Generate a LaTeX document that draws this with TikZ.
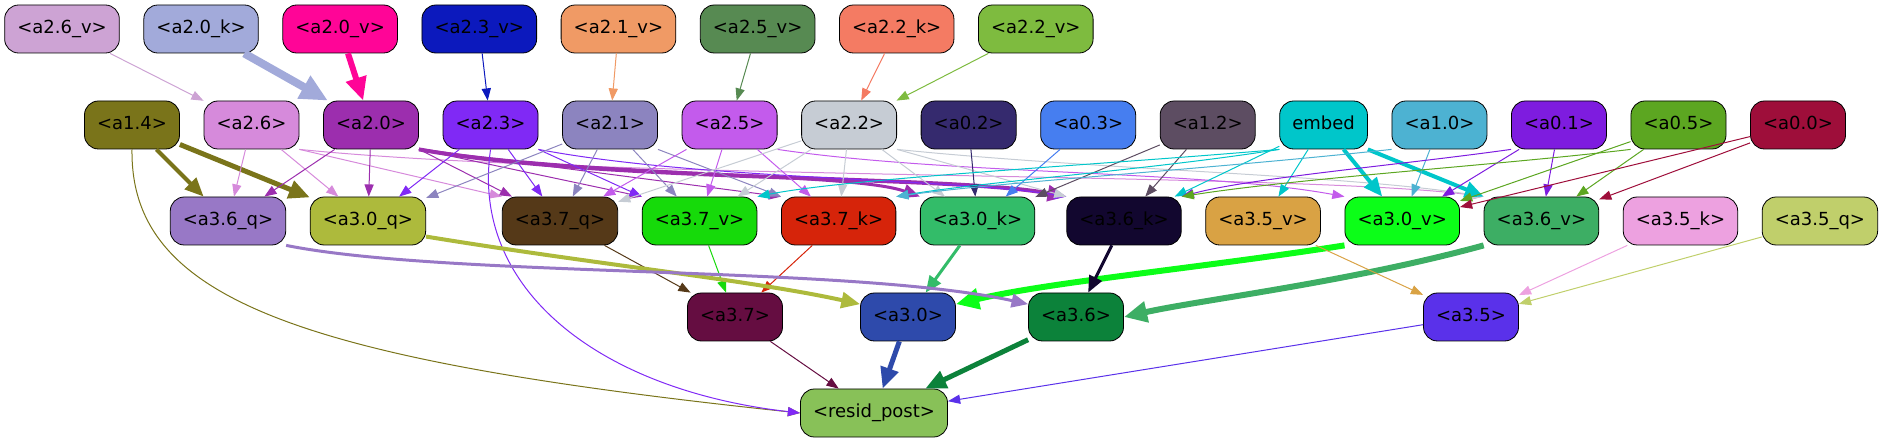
\documentclass[tikz,border=0pt]{standalone}
\usepackage{fontspec}
\setmainfont{DejaVu Sans}
\usetikzlibrary{positioning,arrows.meta}
\definecolor{c26v}{HTML}{CDA3D4}
\definecolor{c20k}{HTML}{A2AADA}
\definecolor{c20v}{HTML}{FF0597}
\definecolor{c23v}{HTML}{0C19BD}
\definecolor{c21v}{HTML}{F09A65}
\definecolor{c25v}{HTML}{578A52}
\definecolor{c22k}{HTML}{F47B63}
\definecolor{c22v}{HTML}{7EBB3F}
\definecolor{c14}{HTML}{7A741A}
\definecolor{c26}{HTML}{D68ADB}
\definecolor{c20}{HTML}{9C2EAE}
\definecolor{c23}{HTML}{8029F5}
\definecolor{c21}{HTML}{8C84BF}
\definecolor{c25}{HTML}{C35BEC}
\definecolor{c22}{HTML}{C6CCD4}
\definecolor{c02}{HTML}{352A6E}
\definecolor{c03}{HTML}{467EF0}
\definecolor{c12}{HTML}{5D4D62}
\definecolor{cemb}{HTML}{00C6CA}
\definecolor{c10}{HTML}{4DB2D2}
\definecolor{c01}{HTML}{7E1CDF}
\definecolor{c05}{HTML}{5CA621}
\definecolor{c00}{HTML}{9E0E3A}
\definecolor{c36q}{HTML}{9878C6}
\definecolor{c30q}{HTML}{ADBA3C}
\definecolor{c37q}{HTML}{553918}
\definecolor{c37v}{HTML}{16DA0A}
\definecolor{c37k}{HTML}{D6240A}
\definecolor{c30k}{HTML}{33BC69}
\definecolor{c36k}{HTML}{12072F}
\definecolor{c35v}{HTML}{D9A244}
\definecolor{c30v}{HTML}{0CFE18}
\definecolor{c36v}{HTML}{3DAE64}
\definecolor{c35k}{HTML}{EDA1E0}
\definecolor{c35q}{HTML}{C0CF6B}
\definecolor{c37}{HTML}{650D41}
\definecolor{c30}{HTML}{2E4AAB}
\definecolor{c36}{HTML}{0C823A}
\definecolor{c35}{HTML}{5A31EA}
\definecolor{cres}{HTML}{88C158}
\begin{document}
\begin{tikzpicture}[x=1pt, y=-1pt, node distance=23.7pt, thick,
  main/.style = {draw, rounded corners=14pt, minimum height=48pt, inner xsep=12.6pt, inner ysep=0pt, text height=13pt, text depth=4pt, font=\fontsize{18}{21}\selectfont},
  link/.style = {line width=#1, -{Triangle[length=10pt 2.2, width=7pt 2.2]}},
  link/.default = 1pt]
\useasboundingbox (0,0) rectangle (1882,443);
% top row
\node[main, fill=c26v] (a26v) at (62,29) {<a2.6\_v>};
\node[main, fill=c20k] (a20k) [right=of a26v] {<a2.0\_k>};
\node[main, fill=c20v] (a20v) [right=of a20k] {<a2.0\_v>};
\node[main, fill=c23v] (a23v) [right=of a20v] {<a2.3\_v>};
\node[main, fill=c21v] (a21v) [right=of a23v] {<a2.1\_v>};
\node[main, fill=c25v] (a25v) [right=of a21v] {<a2.5\_v>};
\node[main, fill=c22k] (a22k) [right=of a25v] {<a2.2\_k>};
\node[main, fill=c22v] (a22v) [right=of a22k] {<a2.2\_v>};
% heads
\node[main, fill=c14] (a14) at (132,125) {<a1.4>};
\node[main, fill=c26] (a26) [right=of a14] {<a2.6>};
\node[main, fill=c20] (a20) [right=of a26] {<a2.0>};
\node[main, fill=c23] (a23) [right=of a20] {<a2.3>};
\node[main, fill=c21] (a21) [right=of a23] {<a2.1>};
\node[main, fill=c25] (a25) [right=of a21] {<a2.5>};
\node[main, fill=c22] (a22) [right=of a25] {<a2.2>};
\node[main, fill=c02] (a02) [right=of a22] {<a0.2>};
\node[main, fill=c03] (a03) [right=of a02] {<a0.3>};
\node[main, fill=c12] (a12) [right=of a03] {<a1.2>};
\node[main, fill=cemb] (emb) [right=of a12] {embed};
\node[main, fill=c10] (a10) [right=of emb] {<a1.0>};
\node[main, fill=c01] (a01) [right=of a10] {<a0.1>};
\node[main, fill=c05] (a05) [right=of a01] {<a0.5>};
\node[main, fill=c00] (a00) [right=of a05] {<a0.0>};
% q, k, v of layer 3
\node[main, fill=c36q] (a36q) at (228,221) {<a3.6\_q>};
\node[main, fill=c30q] (a30q) [right=of a36q] {<a3.0\_q>};
\node[main, fill=c37q] (a37q) at (560,221) {<a3.7\_q>};
\node[main, fill=c37v] (a37v) [right=of a37q] {<a3.7\_v>};
\node[main, fill=c37k] (a37k) [right=of a37v] {<a3.7\_k>};
\node[main, fill=c30k] (a30k) [right=of a37k] {<a3.0\_k>};
\node[main, fill=c36k] (a36k) at (1124,221) {<a3.6\_k>};
\node[main, fill=c35v] (a35v) [right=of a36k] {<a3.5\_v>};
\node[main, fill=c30v] (a30v) [right=of a35v] {<a3.0\_v>};
\node[main, fill=c36v] (a36v) [right=of a30v] {<a3.6\_v>};
\node[main, fill=c35k] (a35k) [right=of a36v] {<a3.5\_k>};
\node[main, fill=c35q] (a35q) [right=of a35k] {<a3.5\_q>};
% layer 3 heads and output
\node[main, fill=c37] (a37) at (735,317) {<a3.7>};
\node[main, fill=c30] (a30) at (908,317) {<a3.0>};
\node[main, fill=c36] (a36) at (1076,317) {<a3.6>};
\node[main, fill=c35] (a35) at (1471,317) {<a3.5>};
\node[main, fill=cres] (resid) at (874,413) {<resid\_post>};
% into the layer 2 heads
\draw[link, c26v] (a26v) -- (a26);
\draw[link=8pt, c20k] (a20k) -- (a20);
\draw[link=6pt, c20v] (a20v) -- (a20);
\draw[link, c23v] (a23v) -- (a23);
\draw[link, c21v] (a21v) -- (a21);
\draw[link, c25v] (a25v) -- (a25);
\draw[link, c22k] (a22k) -- (a22);
\draw[link, c22v] (a22v) -- (a22);
% heads to q, k, v
\draw[link=4pt, c14] (a14) -- (a36q);
\draw[link=5pt, c14] (a14) -- (a30q);
\draw[link, c14] (a14.south) .. controls (130,300) and (300,360) .. (resid.west);
\draw[link, c26] (a26) -- (a36q);
\draw[link, c26] (a26) -- (a30q);
\draw[link, c26] (a26.south east) -- (a37q.north west);
\draw[link, c26] (a26.south east) .. controls (600,180) and (1300,172) .. (a36v.north west);
\draw[link, c20] (a20) -- (a36q);
\draw[link, c20] (a20) -- (a30q);
\draw[link, c20] (a20) -- (a37q);
\draw[link, c20] (a20.south east) -- (a37v.north west);
\draw[link, c20] (a20.south east) -- (a37k.north west);
\draw[link=3pt, c20] (a20.south east) .. controls (600,178) and (850,172) .. (a30k.north west);
\draw[link=4pt, c20] (a20.south east) .. controls (600,182) and (950,175) .. (a36k.north west);
\draw[link, c23] (a23) -- (a30q);
\draw[link, c23] (a23) -- (a37q);
\draw[link, c23] (a23.south east) -- (a37v.north west);
\draw[link, c23] (a23.south east) .. controls (700,180) and (950,178) .. (a36k.north west);
\draw[link, c23] (a23.south) .. controls (470,290) and (600,390) .. (resid.west);
\draw[link, c21] (a21) -- (a30q);
\draw[link, c21] (a21) -- (a37q);
\draw[link, c21] (a21) -- (a37v);
\draw[link, c21] (a21.south east) -- (a37k.north west);
\draw[link, c25] (a25) -- (a37q);
\draw[link, c25] (a25) -- (a37v);
\draw[link, c25] (a25) -- (a37k);
\draw[link, c25] (a25.south east) .. controls (950,175) and (1200,170) .. (a30v.north west);
\draw[link, c22] (a22) -- (a37q);
\draw[link, c22] (a22) -- (a37v);
\draw[link, c22] (a22) -- (a37k);
\draw[link, c22] (a22) -- (a30k);
\draw[link, c22] (a22.south east) -- (a36k.north west);
\draw[link, c22] (a22.south east) .. controls (1100,170) and (1350,175) .. (a36v.north west);
\draw[link, c02] (a02) -- (a30k);
\draw[link, c03] (a03) -- (a30k);
\draw[link, c12] (a12) -- (a30k);
\draw[link, c12] (a12) -- (a36k);
\draw[link, cemb] (emb) -- (a36k);
\draw[link, cemb] (emb.south west) .. controls (1100,165) and (850,178) .. (a37v.north east);
\draw[link, cemb] (emb.south west) .. controls (1150,170) and (980,182) .. (a37k.north east);
\draw[link, cemb] (emb) -- (a35v);
\draw[link=4pt, cemb] (emb) -- (a30v);
\draw[link=4pt, cemb] (emb.south east) -- (a36v.north west);
\draw[link, c10] (a10) -- (a30v);
\draw[link, c10] (a10.south west) .. controls (1200,170) and (1000,182) .. (a37k.north east);
\draw[link, c01] (a01) -- (a30v);
\draw[link, c01] (a01) -- (a36v);
\draw[link, c01] (a01.south west) .. controls (1400,165) and (1250,178) .. (a36k.north east);
\draw[link, c05] (a05) -- (a30v);
\draw[link, c05] (a05) -- (a36v);
\draw[link, c05] (a05.south west) .. controls (1500,165) and (1300,178) .. (a36k.north east);
\draw[link, c00] (a00) -- (a30v);
\draw[link, c00] (a00) -- (a36v);
% q, k, v to the layer 3 heads
\draw[link, c37q] (a37q) -- (a37);
\draw[link, c37v] (a37v) -- (a37);
\draw[link, c37k] (a37k) -- (a37);
\draw[link=4pt, c30q] (a30q.-15) .. controls (600,265) and (750,280) .. (a30.165);
\draw[link=3pt, c30k] (a30k) -- (a30);
\draw[link=6pt, c30v] (a30v.south west) .. controls (1200,268) and (1050,282) .. (a30.15);
\draw[link=3pt, c36q] (a36q.south east) .. controls (450,278) and (850,265) .. (a36.165);
\draw[link=3pt, c36k] (a36k) -- (a36);
\draw[link=6pt, c36v] (a36v.south west) .. controls (1350,282) and (1200,300) .. (a36.east);
\draw[link, c35v] (a35v) -- (a35);
\draw[link, c35k] (a35k) -- (a35);
\draw[link, c35q] (a35q) -- (a35);
% into resid_post
\draw[link, c37] (a37) -- (resid);
\draw[link=5pt, c30] (a30) -- (resid);
\draw[link=5pt, c36] (a36) -- (resid);
\draw[link, c35] (a35) -- (resid);
\end{tikzpicture}
\end{document}
